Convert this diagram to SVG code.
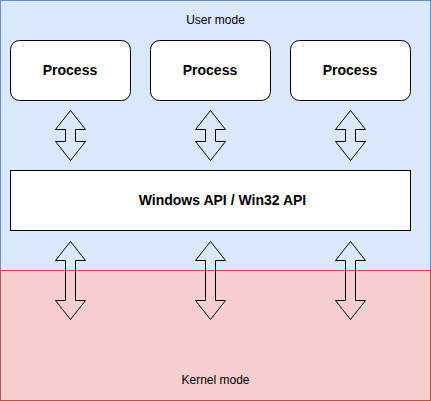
<svg xmlns="http://www.w3.org/2000/svg" width="431" height="401" viewBox="0 0 431 401">
<style>
.t{font-family:"Liberation Sans",Arial,sans-serif;fill:#000;text-anchor:middle}
.b{font-weight:bold;font-size:14px}
.n{font-size:12px}
.proc{fill:#fff;stroke:#000;stroke-width:1}
.arr{fill:none;stroke:#000;stroke-width:1;stroke-linejoin:miter}
</style>
<g id="user-mode">
<rect x="0.5" y="0.5" width="430" height="270" fill="#dae8fc" stroke="#6c8ebf"/>
<text class="t n" x="215.5" y="24">User mode</text>
</g>
<g id="kernel-mode">
<rect x="0.5" y="270.5" width="430" height="130" fill="#f8cecc" stroke="#b85450"/>
<text class="t n" x="215.5" y="384">Kernel mode</text>
</g>
<g id="process1">
<rect class="proc" x="10.5" y="40.5" width="120" height="60" rx="9"/>
<text class="t b" x="70" y="74.5">Process</text>
</g>
<g id="process2">
<rect class="proc" x="150.5" y="40.5" width="120" height="60" rx="9"/>
<text class="t b" x="210" y="74.5">Process</text>
</g>
<g id="process3">
<rect class="proc" x="290.5" y="40.5" width="120" height="60" rx="9"/>
<text class="t b" x="350" y="74.5">Process</text>
</g>
<g id="winapi">
<rect class="proc" x="10.5" y="170.5" width="400" height="60"/>
<text class="t b" x="222.5" y="204.5">Windows API / Win32 API</text>
</g>
<g id="connectors">
<path class="arr" d="M70.5,110.5 L85.5,129.5 L75.5,129.5 L75.5,141.5 L85.5,141.5 L70.5,160.5 L55.5,141.5 L65.5,141.5 L65.5,129.5 L55.5,129.5 Z"/>
<path class="arr" d="M210.5,110.5 L225.5,129.5 L215.5,129.5 L215.5,141.5 L225.5,141.5 L210.5,160.5 L195.5,141.5 L205.5,141.5 L205.5,129.5 L195.5,129.5 Z"/>
<path class="arr" d="M350.5,110.5 L365.5,129.5 L355.5,129.5 L355.5,141.5 L365.5,141.5 L350.5,160.5 L335.5,141.5 L345.5,141.5 L345.5,129.5 L335.5,129.5 Z"/>
<path class="arr" d="M70.5,241.5 L85.5,260.5 L75.5,260.5 L75.5,300.5 L85.5,300.5 L70.5,319.5 L55.5,300.5 L65.5,300.5 L65.5,260.5 L55.5,260.5 Z"/>
<path class="arr" d="M210.5,241.5 L225.5,260.5 L215.5,260.5 L215.5,300.5 L225.5,300.5 L210.5,319.5 L195.5,300.5 L205.5,300.5 L205.5,260.5 L195.5,260.5 Z"/>
<path class="arr" d="M350.5,241.5 L365.5,260.5 L355.5,260.5 L355.5,300.5 L365.5,300.5 L350.5,319.5 L335.5,300.5 L345.5,300.5 L345.5,260.5 L335.5,260.5 Z"/>
</g>
</svg>
